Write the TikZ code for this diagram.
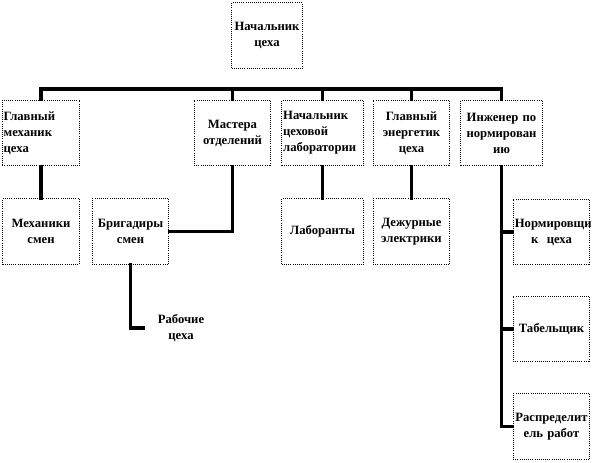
\documentclass[tikz,border=0pt]{standalone}
\usepackage{fontspec}
\setmainfont{Liberation Serif}
\usetikzlibrary{calc}
\begin{document}
\begin{tikzpicture}[x=0.75pt,y=-0.75pt,
  box/.style={draw=black, densely dotted, line width=0.6pt, minimum width=57.5pt, minimum height=49pt,
    inner sep=1pt, font=\bfseries\fontsize{9.5}{12}\selectfont},
  cbox/.style={box, align=center, text width=55pt},
  lbox/.style={box, align=left, text width=56pt},
  link/.style={line width=2.3pt, line cap=rect, join=miter}]
\useasboundingbox (0,0) rectangle (594,462);
\fill[white] (0,0) rectangle (594,462);
% level 0
\node[cbox, minimum width=51pt, text width=51pt] (top) at (267,35.5) {Начальник\\цеха};
% level 1
\node[lbox] (gm) at (41,133) {Главный\\механик\\цеха};
\node[cbox] (ms) at (232.5,133) {Мастера\\отделений};
\node[lbox, minimum width=59pt, text width=59pt] (nl) at (322.5,133) {Начальник\\цеховой\\лаборатории};
\node[cbox] (ge) at (411.5,133) {Главный\\энергетик\\цеха};
\node[cbox, minimum width=59pt, text width=59pt] (in) at (501.5,133) {Инженер по\\нормирован\\ию};
% level 2
\node[cbox] (mex) at (41,231.5) {Механики\\смен};
\node[cbox] (br) at (130.5,231.5) {Бригадиры\\смен};
\node[cbox, minimum width=59pt, text width=59pt] (lab) at (322.5,231.5) {Лаборанты};
\node[cbox] (de) at (411.5,231.5) {Дежурные\\электрики};
\node[cbox] (nor) at (551.5,232) {Нормировщи\\к\ \ цеха};
\node[cbox] (tab) at (551.5,329) {Табельщик};
\node[cbox] (ras) at (551.5,426.5) {Распределит\\ель работ};
% free text
\node[align=center, font=\bfseries\fontsize{9.5}{12}\selectfont] (rab) at (181,328) {Рабочие\\цеха};
\coordinate (rabend) at (143,328);
\coordinate (bus) at (0,89);
% connectors
\draw[link] ($(top.south)+(4,0)$) -- ($(top.south)+(4,0)$ |- bus);
\draw[link] (gm.north) |- (in.north |- bus) -- (in.north);
\draw[link] (ms.north |- bus) -- (ms.north);
\draw[link] (nl.north |- bus) -- (nl.north);
\draw[link] (ge.north |- bus) -- (ge.north);
\draw[link] (gm.south) -- (mex.north);
\draw[link] (ms.south) |- (br.east);
\draw[link] (br.south) |- (rabend);
\draw[link] (nl.south) -- (lab.north);
\draw[link] (ge.south) -- (de.north);
\draw[link] (in.south) |- (ras.west);
\draw[link] (in.south |- nor.west) -- (nor.west);
\draw[link] (in.south |- tab.west) -- (tab.west);
\end{tikzpicture}
\end{document}
